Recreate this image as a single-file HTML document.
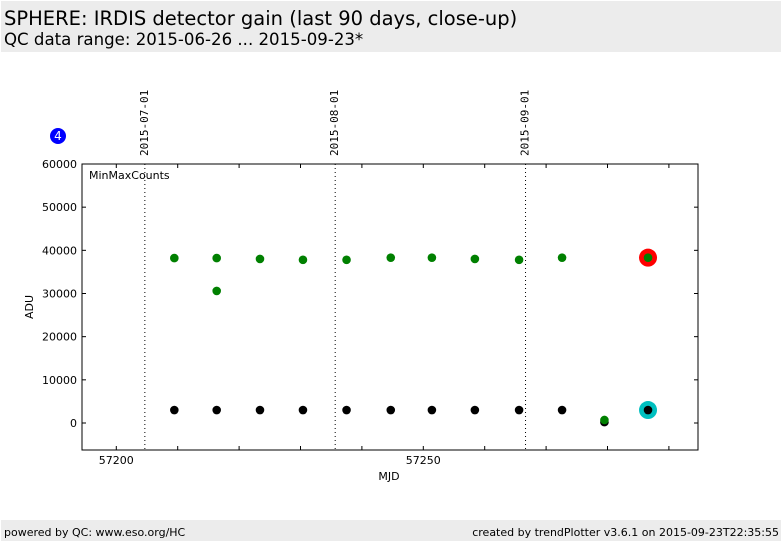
<!DOCTYPE html>
<html><head><meta charset="utf-8"><style>
body{margin:0;background:#fff;font-family:"DejaVu Sans","Liberation Sans",sans-serif;}
#wrap{position:relative;width:782px;height:542px;overflow:hidden;}
.bar{position:absolute;left:1px;width:780px;background:#ececec;}
</style></head><body>
<div id="wrap">
<div class="bar" style="top:1px;height:51px">
<div style="position:absolute;left:3px;top:6px;font-size:19.5px">SPHERE: IRDIS detector gain (last 90 days, close-up)</div>
<div style="position:absolute;left:3px;top:29px;font-size:16.6px">QC data range: 2015-06-26 ... 2015-09-23*</div>
</div>
<div class="bar" style="top:520px;height:21px;font-size:11px">
<span style="position:absolute;left:3px;top:6px">powered by QC: www.eso.org/HC</span>
<span style="position:absolute;right:2px;top:6px">created by trendPlotter v3.6.1 on 2015-09-23T22:35:55</span>
</div>
<svg id="svg" width="782" height="542" style="position:absolute;left:0;top:0" font-family="DejaVu Sans, Liberation Sans, sans-serif" font-size="11"></svg>
</div>
<script>
const minX=[57209.45,57216.35,57223.4,57230.4,57237.5,57244.7,57251.4,57258.4,57265.6,57272.6,57279.5,57286.6];
const minY=[3000,3000,3000,3000,3000,3000,3000,3000,3000,3000,200,3000];
const maxX=[57209.45,57216.35,57216.35,57223.4,57230.4,57237.5,57244.7,57251.4,57258.4,57265.6,57272.6,57279.5,57286.6];
const maxY=[38200,38200,30600,38000,37800,37800,38300,38300,38000,37800,38300,700,38300];
const yTicks=[0,10000,20000,30000,40000,50000,60000];
const xTicks=[57200,57210,57220,57230,57240,57250,57260,57270,57280,57290];
const xLabels=[57200,57250];
const dateX=[57204.65,57235.65,57266.65];
const dateLabels=["2015-07-01","2015-08-01","2015-09-01"];
const L=82,R=698,T=164,B=450;
const sx=v=>116.3+(v-57200)*6.14;
const sy=v=>423-v*0.0043167;
const svg=document.getElementById('svg');
function el(tag,attrs,name,txt){const e=document.createElementNS('http://www.w3.org/2000/svg',tag);for(const k in attrs)e.setAttribute(k,attrs[k]);


if(txt!==undefined)e.textContent=txt;svg.appendChild(e);return e;}
el('rect',{x:L,y:T,width:R-L,height:B-T,fill:'#fff',stroke:'#000','stroke-width':1},'plot-area');
yTicks.forEach(v=>{const y=sy(v);
el('line',{x1:L,x2:L+4,y1:y,y2:y,stroke:'#000'},'y-tick');
el('line',{x1:R-4,x2:R,y1:y,y2:y,stroke:'#000'},'y-tick-right');
el('text',{x:L-5,y:y+4,'text-anchor':'end'},'y-tick-label',String(v));});
xTicks.forEach(v=>{const x=sx(v);
el('line',{x1:x,x2:x,y1:B,y2:B-4,stroke:'#000'},'x-tick');
el('line',{x1:x,x2:x,y1:T,y2:T+4,stroke:'#000'},'x-tick-top');});
xLabels.forEach(v=>el('text',{x:sx(v),y:B+14,'text-anchor':'middle'},'x-tick-label',String(v)));
dateX.forEach((d,i)=>{const x=sx(d);
el('line',{x1:x,x2:x,y1:T,y2:B,stroke:'#000','stroke-dasharray':'1,3'},'date-line');
el('text',{x:x+3,y:T-8,transform:`rotate(-90 ${x+3} ${T-8})`,'font-family':'DejaVu Sans Mono, Liberation Mono, monospace'},'date-label',dateLabels[i]);});
el('text',{x:89,y:179},'plot-label','MinMaxCounts');
el('text',{x:389,y:480,'text-anchor':'middle'},'x-axis-title','MJD');
el('text',{x:33,y:307,transform:'rotate(-90 33 307)','text-anchor':'middle'},'y-axis-title','ADU');
el('circle',{cx:58,cy:136,r:8,fill:'#0000ff'},'badge');
el('text',{x:58,y:140,fill:'#fff','text-anchor':'middle','font-size':12},'badge-text','4');
const lx=maxX[maxX.length-1];
el('circle',{cx:sx(lx),cy:sy(maxY[maxY.length-1]),r:9,fill:'#ff0000'},'latest-max-highlight');
el('circle',{cx:sx(minX[minX.length-1]),cy:sy(minY[minY.length-1]),r:9,fill:'#00bfbf'},'latest-min-highlight');
minX.forEach((x,i)=>el('circle',{cx:sx(x),cy:sy(minY[i]),r:4.3,fill:'#000'},'min-point'));
maxX.forEach((x,i)=>el('circle',{cx:sx(x),cy:sy(maxY[i]),r:4.3,fill:'#008000'},'max-point'));
</script>
</body></html>
